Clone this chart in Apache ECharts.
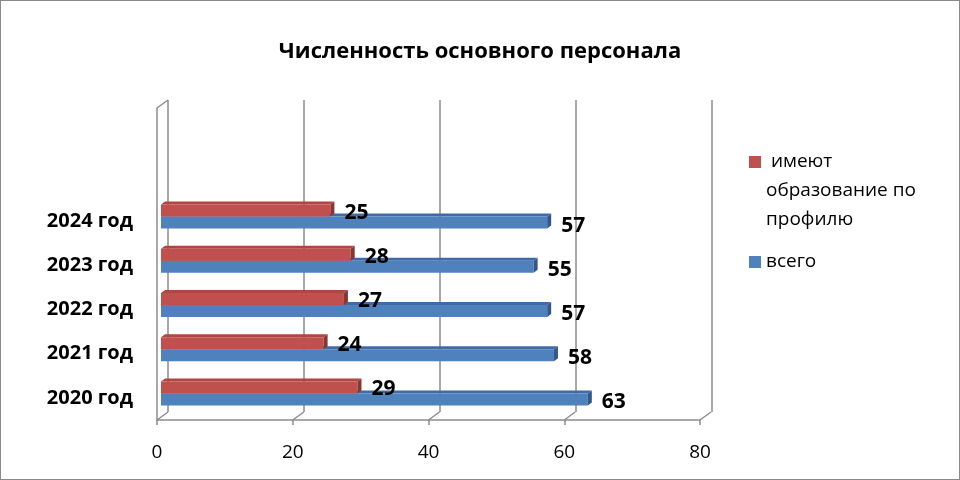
<!DOCTYPE html>
<html>
<head>
<meta charset="utf-8">
<script src="https://cdn.jsdelivr.net/npm/echarts@6/dist/echarts.min.js"></script>
<style>
html, body { margin: 0; padding: 0; background: #fff; }
#chart { width: 958px; height: 478px; border: 1px solid #8a8a8a; }
</style>
</head>
<body>
<div id="chart"></div>
<script>
var categories = ['2020 год', '2021 год', '2022 год', '2023 год', '2024 год'];
var profileValues = [29, 24, 27, 28, 25];
var totalValues = [63, 58, 57, 55, 57];
var axisTicks = [0, 20, 40, 60, 80];
var profileName = ' имеют образование по профилю';
var totalName = 'всего';

var FONT = '"Open Sans", "Noto Sans", sans-serif';
var GRID_COLOR = '#8c8c8c';
// depth of the 3d bars and of the walls
var DX = 4, DY = 3, BAR_H = 12;
var WALL_DX = 11, WALL_DY = 8;

var chart = echarts.init(document.getElementById('chart'));

function barRenderer(upper, colors) {
    return function (params, api) {
        var val = api.value(0), cat = api.value(1);
        var start = api.coord([0, cat]);
        var end = api.coord([val, cat]);
        var mid = start[1] - 4.5;
        var top = upper ? mid - BAR_H : mid;
        var bot = top + BAR_H;
        var x0 = start[0], x1 = end[0];
        return {
            type: 'group',
            children: [
                { type: 'polygon', shape: { points: [[x0, top], [x1, top], [x1 + DX, top - DY], [x0 + DX, top - DY]] },
                  style: { fill: colors.top } },
                { type: 'rect', shape: { x: x0, y: top, width: x1 - x0, height: BAR_H },
                  style: { fill: colors.front } },
                { type: 'polygon', shape: { points: [[x1, top], [x1 + DX, top - DY], [x1 + DX, bot - DY], [x1, bot]] },
                  style: { fill: colors.side } },
                { type: 'text', style: { text: String(val), x: x1 + 14, y: (top + bot) / 2 + (upper ? 2 : 3),
                  align: 'left', verticalAlign: 'middle', fill: '#000',
                  font: 'bold 21px ' + FONT } }
            ]
        };
    };
}

function toPoints(values) {
    return values.map(function (v, i) { return [v, i]; });
}

var frameData = axisTicks.map(function (v) { return [v, 0]; });
frameData.push([0, 1]);

chart.setOption({
    animation: false,
    title: {
        text: 'Численность основного персонала',
        left: 'center',
        top: 40,
        padding: 0,
        textStyle: { fontFamily: FONT, fontSize: 22, fontWeight: 'bold', color: '#000' }
    },
    legend: [{
        data: [profileName],
        orient: 'vertical',
        left: 748,
        top: 88.5,
        padding: 0,
        icon: 'rect',
        itemWidth: 12,
        itemHeight: 12,
        // two empty lines first so that the marker sits beside the first real line
        formatter: function () { return '\n\n имеют\nобразование по\nпрофилю'; },
        textStyle: { fontFamily: FONT, fontSize: 19, color: '#000', lineHeight: 29 }
    }, {
        data: [totalName],
        orient: 'vertical',
        left: 748,
        top: 246.5,
        padding: 0,
        icon: 'rect',
        itemWidth: 12,
        itemHeight: 12,
        textStyle: { fontFamily: FONT, fontSize: 19, color: '#000', lineHeight: 29 }
    }],
    grid: [
        { left: 160, top: 198, width: 542, height: 221 },
        { left: 167, top: 99, width: 544, height: 312 },
        { left: 156, top: 107, width: 543, height: 312 }
    ],
    xAxis: [{
        gridIndex: 0, type: 'value', min: 0, max: 80, interval: 20, show: false
    }, {
        gridIndex: 1, type: 'value', min: 0, max: 80, interval: 20,
        axisLine: { show: false }, axisTick: { show: false }, axisLabel: { show: false },
        splitLine: { show: true, lineStyle: { color: GRID_COLOR, width: 1.5 } }
    }, {
        gridIndex: 2, type: 'value', min: 0, max: 80, interval: 20,
        axisLine: { show: true, lineStyle: { color: GRID_COLOR, width: 1.5 } },
        axisTick: { show: true, length: 5, lineStyle: { color: GRID_COLOR, width: 1.5 } },
        axisLabel: { fontFamily: FONT, fontSize: 19, color: '#000', margin: 23 },
        splitLine: { show: false }
    }],
    yAxis: [{
        gridIndex: 0, type: 'category', data: categories,
        axisLine: { show: false }, axisTick: { show: false },
        axisLabel: { fontFamily: FONT, fontSize: 20, fontWeight: 'bold', color: '#000', margin: 28 }
    }, {
        gridIndex: 1, type: 'value', min: 0, max: 1, show: false
    }, {
        gridIndex: 2, type: 'value', min: 0, max: 1,
        axisLine: { show: true, onZero: false, lineStyle: { color: GRID_COLOR, width: 1.5 } },
        axisTick: { show: false }, axisLabel: { show: false }, splitLine: { show: false }
    }],
    series: [{
        // slanted joins between the front floor / wall and the back wall
        type: 'custom',
        xAxisIndex: 2, yAxisIndex: 2,
        silent: true, z: 1,
        data: frameData,
        renderItem: function (params, api) {
            var p = api.coord([api.value(0), api.value(1)]);
            return { type: 'line', shape: { x1: p[0], y1: p[1], x2: p[0] + WALL_DX, y2: p[1] - WALL_DY },
                     style: { stroke: GRID_COLOR, lineWidth: 1.5 } };
        }
    }, {
        name: totalName,
        type: 'custom',
        xAxisIndex: 0, yAxisIndex: 0, z: 2,
        itemStyle: { color: '#4f81bd' },
        encode: { x: 0, y: 1 },
        data: toPoints(totalValues),
        renderItem: barRenderer(false, { front: '#4f81bd', top: '#3f6ca6', side: '#34578a' })
    }, {
        name: profileName,
        type: 'custom',
        xAxisIndex: 0, yAxisIndex: 0, z: 3,
        itemStyle: { color: '#c0504d' },
        encode: { x: 0, y: 1 },
        data: toPoints(profileValues),
        renderItem: barRenderer(true, { front: '#c0504d', top: '#b04542', side: '#8a3532' })
    }]
});
</script>
</body>
</html>
